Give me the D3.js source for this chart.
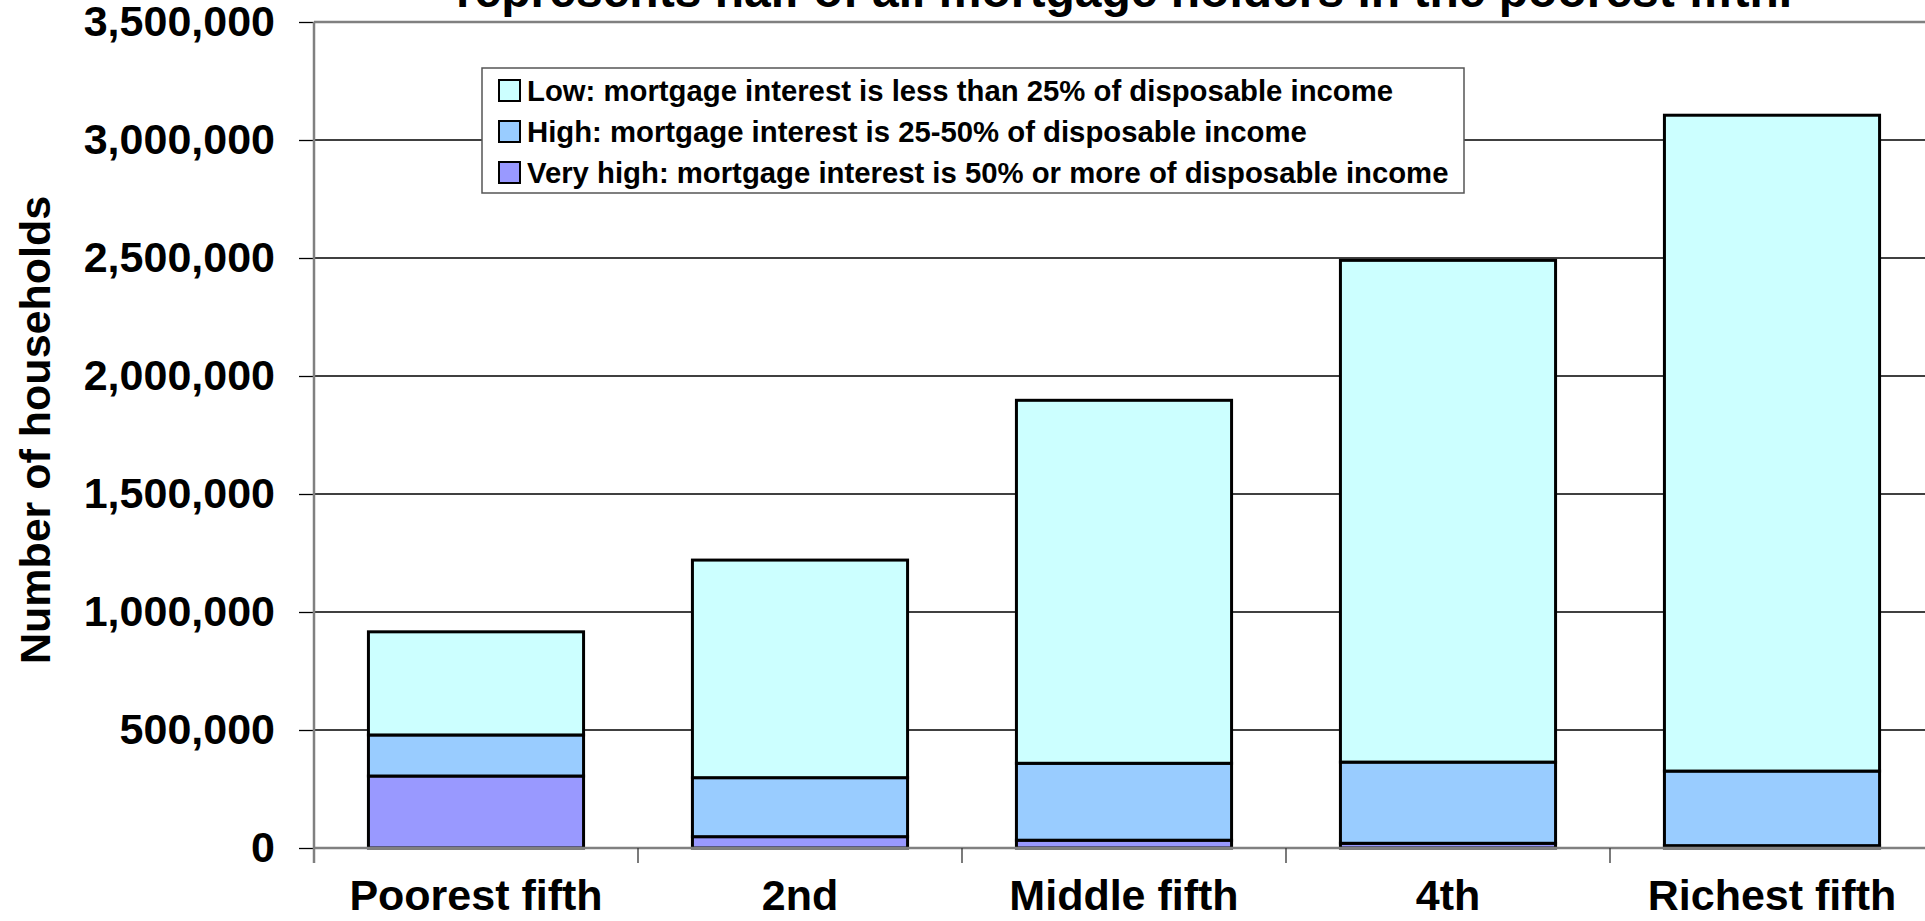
<!DOCTYPE html>
<html>
<head>
<meta charset="utf-8">
<script src="https://cdn.jsdelivr.net/npm/d3@7"></script>
<style>
  html, body { margin: 0; padding: 0; background: #fff; overflow: hidden; }
  svg { display: block; font-family: "Liberation Sans", Arial, sans-serif; font-weight: bold; }
</style>
</head>
<body>
<div id="chart"></div>
<script>
// categories and stacked values (households)
const categories = ["Poorest fifth", "2nd", "Middle fifth", "4th", "Richest fifth"];
const veryHigh = [305000, 48000, 33000, 20000, 10000];
const high = [174000, 250000, 326000, 344000, 316000];
const low = [437000, 922000, 1538000, 2126000, 2779000];
const seriesKeys = ["veryHigh", "high", "low"];
const seriesColors = { low: "#CCFFFF", high: "#99CCFF", veryHigh: "#9999FF" };
const legendLabels = [
  ["low", "Low: mortgage interest is less than 25% of disposable income"],
  ["high", "High: mortgage interest is 25-50% of disposable income"],
  ["veryHigh", "Very high: mortgage interest is 50% or more of disposable income"]
];
const yTicks = [0, 500000, 1000000, 1500000, 2000000, 2500000, 3000000, 3500000];
const titleText = "represents half of all mortgage holders in the poorest fifth.";

const width = 1925, height = 921;
const margin = {top: 22, left: 314};
const plotRight = 1934;   // plot area runs past the right edge of the page
const plotBottom = 848;

const svg = d3.select("#chart").append("svg")
  .attr("width", width)
  .attr("height", height);

let rows = categories.map((c, i) => ({
  cat: c, veryHigh: veryHigh[i], high: high[i], low: low[i]
}));
let stacked = d3.stack().keys(seriesKeys)(rows);

let x = d3.scaleBand()
  .domain(categories)
  .range([margin.left, plotRight])
  .paddingInner(0.336)
  .paddingOuter(0.168);

let y = d3.scaleLinear()
  .domain([0, 3500000])
  .range([plotBottom, margin.top]);

// gridlines
svg.append("g")
  .selectAll("line")
  .data(yTicks.filter(t => t > 0 && t < 3500000))
  .enter()
  .append("line")
  .attr("x1", margin.left)
  .attr("x2", plotRight)
  .attr("y1", d => y(d))
  .attr("y2", d => y(d))
  .attr("stroke", "#000")
  .attr("stroke-width", 1.3);

// plot top border
svg.append("line")
  .attr("x1", margin.left).attr("x2", plotRight)
  .attr("y1", y(3500000)).attr("y2", y(3500000))
  .attr("stroke", "#808080").attr("stroke-width", 2.5);

// stacked bars
svg.append("g")
  .selectAll("g")
  .data(stacked)
  .enter()
  .append("g")
  .attr("fill", d => seriesColors[d.key])
  .selectAll("rect")
  .data(d => d)
  .enter()
  .append("rect")
  .attr("x", d => x(d.data.cat))
  .attr("width", x.bandwidth())
  .attr("y", d => y(d[1]))
  .attr("height", d => y(d[0]) - y(d[1]))
  .attr("stroke", "#000")
  .attr("stroke-width", 3);

// y axis
let yAxis = d3.axisLeft(y)
  .tickValues(yTicks)
  .tickFormat(d3.format(","))
  .tickSize(15)
  .tickPadding(24);
let yG = svg.append("g")
  .attr("transform", `translate(${margin.left},0)`)
  .call(yAxis);
yG.select(".domain").remove();
yG.selectAll(".tick line").attr("stroke", "#000").attr("stroke-width", 1.3);
yG.selectAll(".tick text")
  .attr("font-size", 43)
  .attr("font-family", "'Liberation Sans', Arial, sans-serif")
  .attr("font-weight", "bold")
  .attr("fill", "#000");
svg.append("line")
  .attr("x1", margin.left).attr("x2", margin.left)
  .attr("y1", margin.top).attr("y2", plotBottom + 15)
  .attr("stroke", "#808080").attr("stroke-width", 2.5);

// x axis
svg.append("line")
  .attr("x1", margin.left).attr("x2", plotRight)
  .attr("y1", plotBottom).attr("y2", plotBottom)
  .attr("stroke", "#808080").attr("stroke-width", 2.5);
svg.append("g")
  .selectAll("line")
  .data(categories.slice(1))
  .enter()
  .append("line")
  .attr("x1", d => x(d) - x.step() * x.paddingInner() / 2)
  .attr("x2", d => x(d) - x.step() * x.paddingInner() / 2)
  .attr("y1", plotBottom)
  .attr("y2", plotBottom + 15)
  .attr("stroke", "#333")
  .attr("stroke-width", 1.3);
svg.append("g")
  .selectAll("text")
  .data(categories)
  .enter()
  .append("text")
  .attr("x", d => x(d) + x.bandwidth() / 2)
  .attr("y", 910)
  .attr("text-anchor", "middle")
  .attr("font-size", 43)
  .text(d => d);

// y axis title
svg.append("text")
  .attr("transform", "translate(50,430) rotate(-90)")
  .attr("text-anchor", "middle")
  .attr("font-size", 43)
  .text("Number of households");

// title (top line cut by the page edge)
svg.append("text")
  .attr("x", (margin.left + plotRight) / 2)
  .attr("y", 7)
  .attr("text-anchor", "middle")
  .attr("font-size", 48)
  .text(titleText);

// legend
let legend = svg.append("g").attr("transform", "translate(482,68)");
legend.append("rect")
  .attr("width", 982)
  .attr("height", 125)
  .attr("fill", "#fff")
  .attr("stroke", "#555")
  .attr("stroke-width", 1.5);
let items = legend.selectAll(".item")
  .data(legendLabels)
  .enter()
  .append("g")
  .attr("transform", (d, i) => `translate(0,${22 + i * 41})`);
items.append("rect")
  .attr("x", 17)
  .attr("y", -10)
  .attr("width", 21)
  .attr("height", 21)
  .attr("fill", d => seriesColors[d[0]])
  .attr("stroke", "#000")
  .attr("stroke-width", 2);
items.append("text")
  .attr("x", 45)
  .attr("y", 0)
  .attr("dy", "0.36em")
  .attr("font-size", 29.3)
  .text(d => d[1]);
</script>
</body>
</html>
